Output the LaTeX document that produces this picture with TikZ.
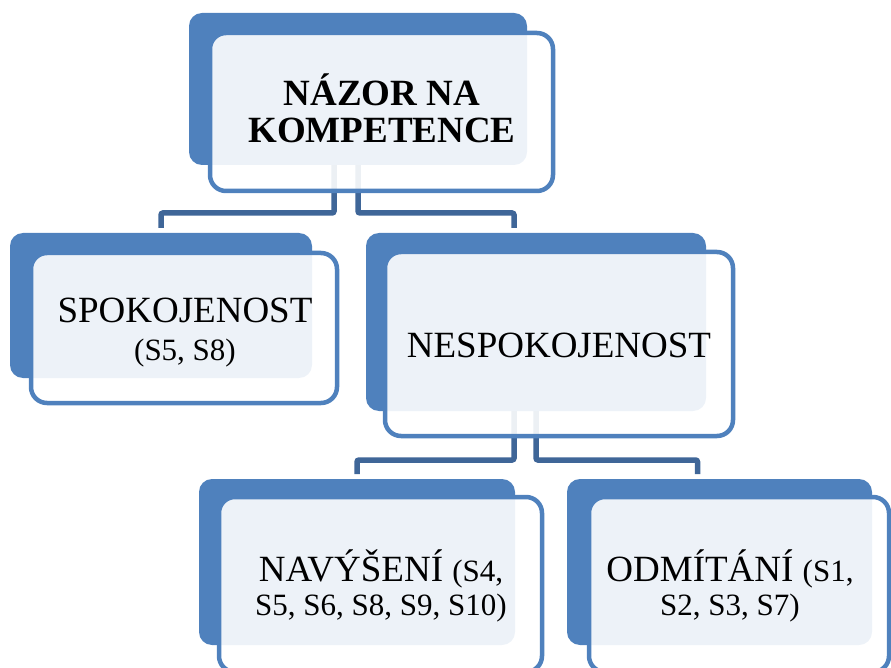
\documentclass[tikz,border=0pt]{standalone}
\usepackage{fontspec}
\setmainfont{Liberation Serif}
\usetikzlibrary{calc}
\definecolor{accblue}{RGB}{79,129,189}
\definecolor{connblue}{RGB}{63,102,152}
\tikzset{
  backbox/.style={rectangle, fill=accblue, rounded corners=13pt, inner sep=0pt, outer sep=0pt},
  frontbox/.style={rectangle, draw=accblue, line width=4.5pt, fill=white, fill opacity=0.9, rounded corners=16pt, inner sep=0pt, outer sep=0pt},
  conn/.style={draw=connblue, line width=5.5pt, rounded corners=2pt},
  bigtxt/.style={align=center, inner sep=0pt, font=\fontsize{37}{38}\selectfont},
}
\newcommand{\refsz}{\fontsize{31}{38}\selectfont}
\begin{document}
\begin{tikzpicture}[x=1pt,y=-1pt]
\useasboundingbox (0,0) rectangle (891,668);
\clip (0,0) rectangle (891,668);
% back boxes
\node[backbox, minimum width=338pt, minimum height=152pt] (topB) at (358,89) {};
\node[backbox, minimum width=302pt, minimum height=145pt] (spokB) at (161,305.5) {};
\node[backbox, minimum width=340pt, minimum height=178pt] (nespB) at (536,322) {};
\node[backbox, minimum width=316pt, minimum height=166pt] (navB) at (357,562) {};
\node[backbox, minimum width=305pt, minimum height=166pt] (odmB) at (719.5,562) {};
% connectors
\draw[conn] ($(topB.south)+(-24,0)$) |- ($(spokB.north)+(0,-20)$) -- ($(spokB.north)+(0,-5)$);
\draw[conn] (topB.south) |- ($(nespB.north)+(-22,-20)$) -- ($(nespB.north)+(-22,-5)$);
\draw[conn] ($(nespB.south)+(-22,0)$) |- ($(navB.north)+(0,-19)$) -- ($(navB.north)+(0,-5)$);
\draw[conn] (nespB.south) |- ($(odmB.north)+(-22,-19)$) -- ($(odmB.north)+(-22,-5)$);
% front boxes
\node[frontbox, minimum width=343pt, minimum height=158pt] (topF) at (381.5,112) {};
\node[frontbox, minimum width=306pt, minimum height=150pt] (spokF) at (184,328) {};
\node[frontbox, minimum width=348pt, minimum height=184pt] (nespF) at (559,344) {};
\node[frontbox, minimum width=323pt, minimum height=175pt] (navF) at (380.5,584.5) {};
\node[frontbox, minimum width=300pt, minimum height=175pt] (odmF) at (739,584.5) {};
% texts
\node[bigtxt, font=\fontsize{37}{37}\selectfont\bfseries] (topT) at (382,108) {NÁZOR NA\\KOMPETENCE};
\node[bigtxt] (spokT) at (185,333) {SPOKOJENOST\\{\refsz (S5, S8)}};
\node[bigtxt] (nespT) at (559,345) {NESPOKOJENOST};
\node[bigtxt, font=\fontsize{37}{34}\selectfont] (navT) at (381,586) {NAVÝŠENÍ {\fontsize{31}{34}\selectfont (S4,}\\{\fontsize{31}{34}\selectfont S5, S6, S8, S9, S10)}};
\node[bigtxt, font=\fontsize{37}{34}\selectfont] (odmT) at (730,586) {ODMÍTÁNÍ {\fontsize{31}{34}\selectfont (S1,}\\{\fontsize{31}{34}\selectfont S2, S3, S7)}};
\end{tikzpicture}
\end{document}
